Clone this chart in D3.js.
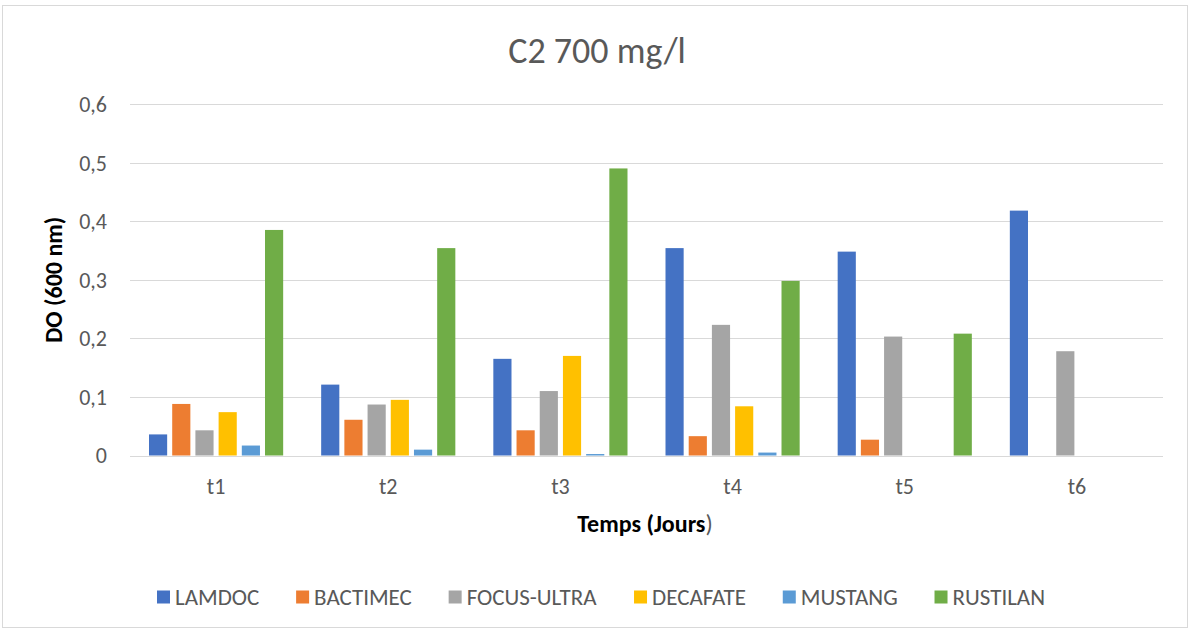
<!DOCTYPE html>
<html><head><meta charset="utf-8">
<script src="https://cdn.jsdelivr.net/npm/d3@7"></script>
<style>body{margin:0;background:#fff}svg{display:block}</style>
</head><body>
<svg id="c" width="1192" height="632"></svg>
<script>
const categories = ["t1","t2","t3","t4","t5","t6"];
const seriesNames = ["LAMDOC","BACTIMEC","FOCUS-ULTRA","DECAFATE","MUSTANG","RUSTILAN"];
const LAMDOC = [0.036,0.121,0.165,0.354,0.348,0.418];
const BACTIMEC = [0.088,0.061,0.043,0.033,0.027,0];
const FOCUS_ULTRA = [0.043,0.087,0.110,0.223,0.203,0.178];
const DECAFATE = [0.074,0.095,0.170,0.084,0,0];
const MUSTANG = [0.017,0.010,0.0025,0.005,0,0];
const RUSTILAN = [0.385,0.354,0.490,0.298,0.208,0];
const seriesValues = [LAMDOC,BACTIMEC,FOCUS_ULTRA,DECAFATE,MUSTANG,RUSTILAN];
const colors = ["#4472C4","#ED7D31","#A5A5A5","#FFC000","#5B9BD5","#70AD47"];
const yTicks = [0,0.1,0.2,0.3,0.4,0.5,0.6];
const yTickLabels = ["0","0,1","0,2","0,3","0,4","0,5","0,6"];
const title = "C2 700 mg/l";
const yTitle = "DO (600 nm)";

const font = "Calibri, Carlito, Lato, 'Open Sans', sans-serif";
const svg = d3.select("#c").style("font-family", font);

svg.append("rect").attr("x",2.5).attr("y",5.5).attr("width",1185).attr("height",622)
  .attr("fill","#fff").attr("stroke","#d9d9d9");

const L = 130, R = 1163, T = 104, B = 455.5;
const x = d3.scaleBand().domain(categories).range([L,R]);
const y = d3.scaleLinear().domain([0,0.6]).range([B,T]);
const xi = d3.scaleBand().domain(seriesNames).range([19, x.bandwidth()-19]).paddingInner(5/23);

// grid
svg.append("g").selectAll("line").data(yTicks).join("line")
  .attr("x1",L).attr("x2",R).attr("y1",d=>Math.round(y(d))+0.5).attr("y2",d=>Math.round(y(d))+0.5)
  .attr("stroke","#d9d9d9").attr("stroke-width",1);

// y labels
svg.append("g").selectAll("text").data(yTicks).join("text")
  .attr("x",107).attr("y",d=>y(d)).attr("dy","0.36em").attr("text-anchor","end")
  .attr("font-size",22).attr("fill","#595959").text((d,i)=>yTickLabels[i]);

// bars
const groups = svg.append("g").selectAll("g").data(categories).join("g")
  .attr("transform",d=>`translate(${x(d)},0)`);
groups.selectAll("rect").data((c,ci)=>seriesNames.map((s,si)=>({s,si,v:seriesValues[si][ci]})))
  .join("rect")
  .attr("x",d=>xi(d.s)).attr("width",xi.bandwidth())
  .attr("y",d=>y(d.v)).attr("height",d=>B-y(d.v))
  .attr("fill",d=>colors[d.si]);

// x labels
svg.append("g").selectAll("text").data(categories).join("text")
  .attr("x",d=>x(d)+x.bandwidth()/2).attr("y",494).attr("text-anchor","middle")
  .attr("font-size",22).attr("fill","#595959").text(d=>d);

// title
svg.append("text").attr("x",597).attr("y",63).attr("text-anchor","middle")
  .attr("font-size",36).attr("fill","#595959").text(title);

// axis titles
const xt = svg.append("text").attr("x",645).attr("y",532).attr("text-anchor","middle")
  .attr("font-size",24);
xt.append("tspan").attr("font-weight","bold").attr("fill","#000").text("Temps (Jours");
xt.append("tspan").attr("fill","#595959").text(")");

svg.append("text").attr("transform",`translate(62,${(T+B)/2}) rotate(-90)`)
  .attr("text-anchor","middle").attr("font-size",24).attr("font-weight","bold").attr("fill","#000")
  .text(yTitle);

// legend
const lg = svg.append("g");
const items = lg.selectAll("g").data(seriesNames).join("g");
items.append("rect").attr("width",13).attr("height",13).attr("y",-6.5).attr("fill",(d,i)=>colors[i]);
items.append("text").attr("x",18).attr("dy","0.36em").attr("font-size",23).attr("fill","#595959").text(d=>d);
const widths = [];
items.each(function(){ widths.push(this.getBBox().width); });
const start = 157, end = 1045;
const gap = (end-start - d3.sum(widths))/(widths.length-1);
let cx = start;
items.attr("transform",(d,i)=>{ const t=`translate(${cx},597)`; cx += widths[i]+gap; return t; });
</script>
</body></html>
